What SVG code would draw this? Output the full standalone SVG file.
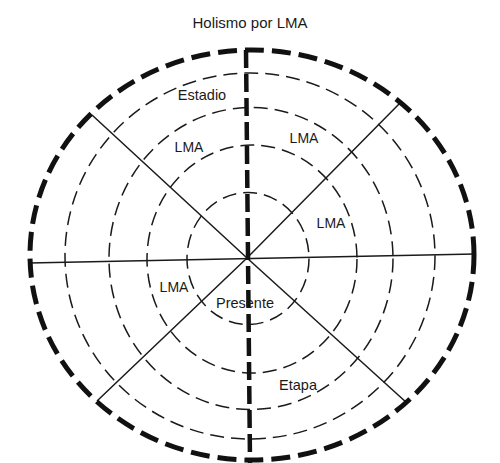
<svg xmlns="http://www.w3.org/2000/svg" width="500" height="463" viewBox="0 0 500 463">
<style>
.ring{fill:none;stroke:#1a1a1a;stroke-width:1.5;stroke-dasharray:14 7}
.outer{fill:none;stroke:#111;stroke-width:5;stroke-dasharray:19 8}
.axis{fill:none;stroke:#1a1a1a;stroke-width:1.5}
.vaxis{fill:none;stroke:#111;stroke-width:4.5;stroke-dasharray:18 6}
text{font-family:"Liberation Sans",Arial,sans-serif;fill:#1a1a1a}
.lbl{font-size:14.5px}
.lma{font-size:14px}
.title{font-size:15px}
</style>
<rect width="500" height="463" fill="#ffffff"/>
<text class="title" x="250" y="28" text-anchor="middle">Holismo por LMA</text>
<g id="connectors">
<line class="axis" x1="29" y1="263" x2="475" y2="254"/>
<polyline class="axis" points="92,115 247,258 407,403"/>
<polyline class="axis" points="400,103 247,258 97,401"/>
</g>
<g id="ring-outer"><ellipse class="outer" cx="252" cy="255" rx="222" ry="205"/></g>
<g id="ring-4"><ellipse class="ring" cx="250" cy="256" rx="185" ry="183"/></g>
<g id="ring-3"><ellipse class="ring" cx="251" cy="258.5" rx="142" ry="151"/></g>
<g id="ring-2"><ellipse class="ring" cx="252" cy="259" rx="105" ry="114"/></g>
<g id="ring-1"><ellipse class="ring" cx="248" cy="258.5" rx="61" ry="66"/></g>
<g id="vertical-axis"><line class="vaxis" x1="246" y1="50" x2="250" y2="463"/></g>
<g id="label-estadio"><text class="lbl" x="202" y="100" text-anchor="middle">Estadio</text></g>
<g id="label-lma-1"><text class="lma" x="189" y="152" text-anchor="middle">LMA</text></g>
<g id="label-lma-2"><text class="lma" x="304" y="143" text-anchor="middle">LMA</text></g>
<g id="label-lma-3"><text class="lma" x="331" y="228" text-anchor="middle">LMA</text></g>
<g id="label-lma-4"><text class="lma" x="174" y="292" text-anchor="middle">LMA</text></g>
<g id="label-presente"><text class="lbl" x="245" y="308" text-anchor="middle">Presente</text></g>
<g id="label-etapa"><text class="lbl" x="298" y="390" text-anchor="middle">Etapa</text></g>
</svg>
